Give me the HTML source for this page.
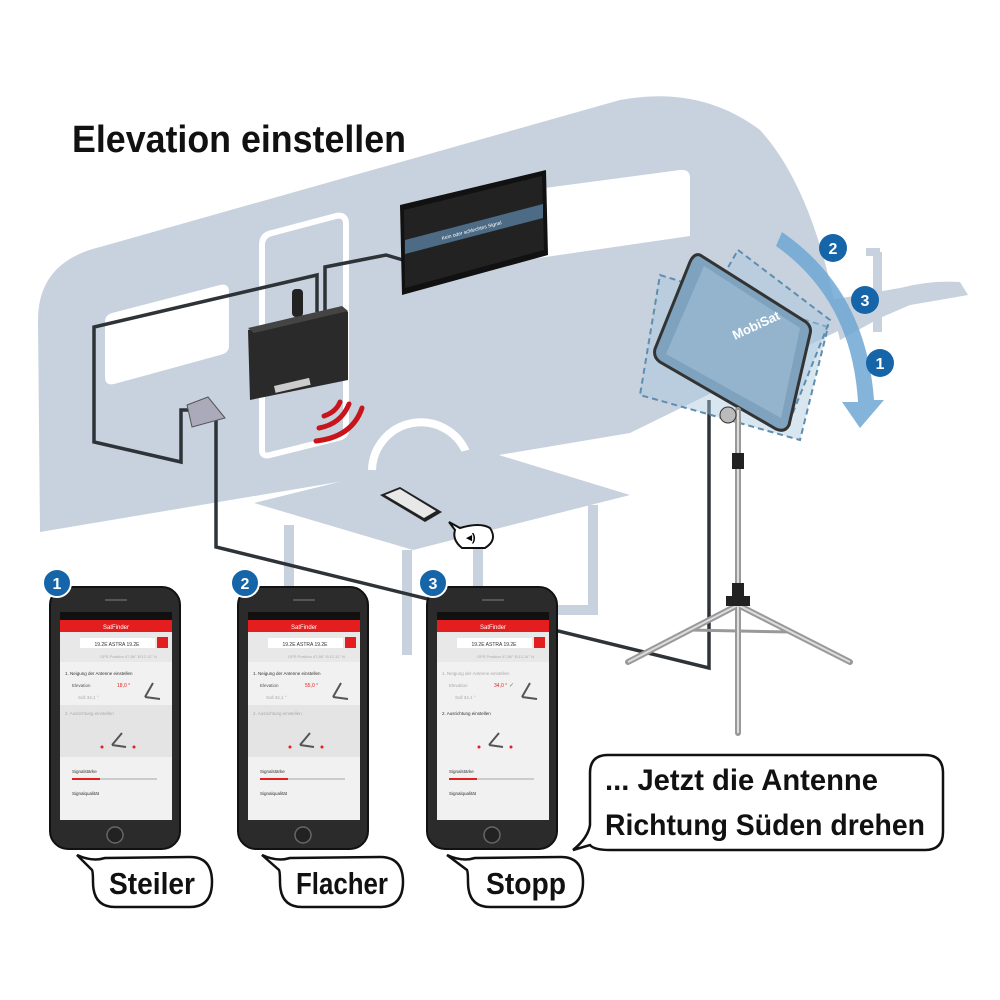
<!DOCTYPE html>
<html><head><meta charset="utf-8">
<style>
html,body{margin:0;padding:0;background:#fff;}
svg{display:block;}
.b{font-family:"Liberation Sans",sans-serif;font-weight:bold;}
.s{font-family:"Liberation Sans",sans-serif;}
</style></head><body>
<svg width="1000" height="1000" viewBox="0 0 1000 1000" xmlns="http://www.w3.org/2000/svg">
<!-- caravan body -->
<path d="M38,320 Q38,262 100,247 L620,100 Q700,85 760,130 Q815,190 840,330 L630,433 L40,532 Z" fill="#c7d2de"/>
<!-- hitch -->
<path d="M830,300 L900,288 Q930,280 960,282 L968,295 Q940,300 910,305 L880,318 L840,340 Z" fill="#c7d2de"/>
<rect x="873" y="252" width="9" height="80" fill="#c7d2de"/>
<rect x="866" y="248" width="14" height="8" fill="#c7d2de"/>
<!-- windows -->
<path d="M112,313 L220,285 Q229,283 229,292 L229,346 Q229,353 220,355 L114,384 Q105,386 105,377 L105,322 Q105,315 112,313 Z" fill="#fff"/>
<path d="M470,198 L680,170 Q690,169 690,178 L690,236 L470,268 Z" fill="#fff"/>
<!-- door -->
<path d="M262,245 Q262,235 272,233 L336,216 Q346,214 346,224 L346,430 Q346,436 338,438 L270,455 Q262,457 262,450 Z" fill="none" stroke="#fff" stroke-width="6"/>
<!-- wheel arch -->
<path d="M372,470 A49,49 0 0 1 466,452" fill="none" stroke="#fff" stroke-width="8"/>
<!-- table -->
<path d="M254,503 L476,448 L630,495 L413,550 Z" fill="#c7d2de"/>
<path d="M289,525 L289,655 M407,550 L407,655 M478,520 L478,600 Q478,610 488,610 L593,610 L593,505" stroke="#c7d2de" stroke-width="10" fill="none"/>
<!-- cables -->
<g fill="none" stroke="#2e3338" stroke-width="3.5">
<path d="M317,312 L317,275 L94,327 L94,442 L181,462 L181,410 L190,410"/>
<path d="M325,312 L325,267 L386,255 L403,260"/>
<path d="M216,415 L216,547 L709,668 L709,400"/>
</g>
<!-- TV -->
<path d="M400,205 L546,170 L548,255 L402,295 Z" fill="#111"/>
<path d="M404,210 L542,176 L544,250 L405,288 Z" fill="#222"/>
<path d="M405,240 L543,204 L543,218 L405,254 Z" fill="#4d6b85"/>
<text x="472" y="232" class="s" font-size="5" fill="#fff" transform="rotate(-15 472 232)" text-anchor="middle">Kein oder schlechtes Signal</text>
<!-- receiver box -->
<rect x="292" y="289" width="11" height="28" rx="4" fill="#222"/>
<path d="M248,330 L344,308 L348,312 L348,380 L250,400 Z" fill="#2a2a2a"/>
<path d="M248,328 L342,306 L348,311 L254,333 Z" fill="#444"/>
<rect x="274" y="386" width="36" height="7" fill="#ccc" transform="rotate(-13 274 386)"/>
<!-- socket -->
<path d="M187,405 L208,397 L225,418 L192,427 Z" fill="#aab" stroke="#555"/>
<!-- wifi waves -->
<g fill="none" stroke="#c8141b" stroke-width="5" stroke-linecap="round">
<path d="M324,416 Q336,412 340,402"/>
<path d="M319,428 Q341,424 349,404"/>
<path d="M316,441 Q352,437 362,408"/>
</g>
<!-- small phone on table -->
<path d="M380,495 L400,487 L442,512 L425,522 Z" fill="#222"/>
<path d="M385,495 L400,489 L436,511 L424,518 Z" fill="#e8e8e8"/>
<path d="M449,522 L460,528 Q480,522 490,528 Q498,540 485,548 L462,548 Q452,540 455,530 Z" fill="#fff" stroke="#111" stroke-width="2"/>
<text x="471" y="541" class="b" font-size="11" text-anchor="middle">◂)</text>
<!-- antenna (ghosts) -->
<g fill="#a9c8de" fill-opacity="0.45" stroke="#5f8db0" stroke-width="2" stroke-dasharray="6,4">
<path d="M660,275 L828,327 L800,440 L640,395 Z"/>
<path d="M738,250 L830,320 L790,420 L675,360 Z"/>
</g>
<path d="M700,255 L806,322 Q812,327 810,334 L789,425 Q785,433 776,429 L660,362 Q653,357 655,349 L690,262 Q694,253 700,255 Z" fill="#7fa3bf" stroke="#333" stroke-width="3"/>
<path d="M704,266 L800,328 L781,418 L666,354 Z" fill="#93b4cc"/>
<text x="735" y="340" class="b" font-size="13" fill="#fff" transform="rotate(-25 735 340)">MobiSat</text>
<!-- arrow arc -->
<path d="M782,232 Q866,290 874,400 L884,400 L860,428 L842,402 L858,402 Q852,300 776,246 Z" fill="#6fa7d4" opacity="0.85"/>
<!-- tripod -->
<g stroke="#999" stroke-width="6" stroke-linecap="round" fill="none">
<path d="M738,410 L738,733"/>
<path d="M738,605 L628,662 M738,605 L850,662"/>
<path d="M690,630 L790,632" stroke-width="3"/>
</g>
<path d="M738,410 L738,733 M738,605 L628,662 M738,605 L850,662" stroke="#ddd" stroke-width="2"/>
<rect x="732" y="453" width="12" height="16" fill="#222"/>
<rect x="732" y="583" width="12" height="18" fill="#222"/>
<rect x="726" y="596" width="24" height="10" fill="#222"/>
<circle cx="728" cy="415" r="8" fill="#bbb" stroke="#333"/>
<!-- numbered badges on antenna -->
<g class="b" font-size="16" fill="#fff" text-anchor="middle">
<circle cx="833" cy="248" r="14" fill="#1565a8"/><text x="833" y="254">2</text>
<circle cx="865" cy="300" r="14" fill="#1565a8"/><text x="865" y="306">3</text>
<circle cx="880" cy="363" r="14" fill="#1565a8"/><text x="880" y="369">1</text>
</g>
<!-- title -->
<text x="72" y="152" class="b" font-size="38" fill="#111" textLength="334" lengthAdjust="spacingAndGlyphs">Elevation einstellen</text>

<!-- phones -->
<g transform="translate(50,587)">
<rect x="0" y="0" width="130" height="262" rx="18" fill="#2b2b2b" stroke="#111" stroke-width="2"/>
<rect x="55" y="12" width="22" height="2" fill="#555"/>
<rect x="10" y="25" width="112" height="208" fill="#f1f1f1"/>
<rect x="10" y="25" width="112" height="8" fill="#111"/>
<rect x="10" y="33" width="112" height="12" fill="#e41e1e"/>
<text x="66" y="42" class="s" font-size="6" fill="#fff" text-anchor="middle">SatFinder</text>
<rect x="10" y="45" width="112" height="30" fill="#e8e8e8"/>
<rect x="30" y="51" width="75" height="10" fill="#fff"/>
<text x="67" y="59" class="s" font-size="5" fill="#333" text-anchor="middle">19.2E ASTRA 19.2E</text>
<rect x="107" y="50" width="11" height="11" fill="#e41e1e"/>
<text x="50" y="71" class="s" font-size="4" fill="#aaa">GPS Position       47,86° E/12,11° N</text>
<text x="15" y="88" class="s" font-size="4.5" fill="#333">1. Neigung der Antenne einstellen</text>
<text x="22" y="100" class="s" font-size="4.5" fill="#555">Elevation</text>
<text x="67" y="100" class="s" font-size="5" fill="#e41e1e">18,0 °</text>
<text x="28" y="112" class="s" font-size="4.5" fill="#aaa">Soll          34,1 °</text>
<path d="M95,110 L103,96 M95,110 L110,112" stroke="#555" stroke-width="2"/>
<rect x="10" y="118" width="112" height="52" fill="#e4e4e4"/>
<text x="15" y="128" class="s" font-size="4.5" fill="#aaa">2. Ausrichtung einstellen</text>
<path d="M62,158 L72,146 M62,158 L76,160" stroke="#555" stroke-width="2"/>
<circle cx="52" cy="160" r="1.5" fill="#e41e1e"/><circle cx="84" cy="160" r="1.5" fill="#e41e1e"/>
<text x="22" y="186" class="s" font-size="4.5" fill="#333">Signalstärke</text>
<rect x="22" y="191" width="85" height="2" fill="#ccc"/><rect x="22" y="191" width="28" height="2" fill="#e41e1e"/>
<text x="22" y="208" class="s" font-size="4.5" fill="#333">Signalqualität</text>
<circle cx="65" cy="248" r="8" fill="#222" stroke="#666" stroke-width="1.5"/>
</g>
<g transform="translate(238,587)">
<rect x="0" y="0" width="130" height="262" rx="18" fill="#2b2b2b" stroke="#111" stroke-width="2"/>
<rect x="55" y="12" width="22" height="2" fill="#555"/>
<rect x="10" y="25" width="112" height="208" fill="#f1f1f1"/>
<rect x="10" y="25" width="112" height="8" fill="#111"/>
<rect x="10" y="33" width="112" height="12" fill="#e41e1e"/>
<text x="66" y="42" class="s" font-size="6" fill="#fff" text-anchor="middle">SatFinder</text>
<rect x="10" y="45" width="112" height="30" fill="#e8e8e8"/>
<rect x="30" y="51" width="75" height="10" fill="#fff"/>
<text x="67" y="59" class="s" font-size="5" fill="#333" text-anchor="middle">19.2E ASTRA 19.2E</text>
<rect x="107" y="50" width="11" height="11" fill="#e41e1e"/>
<text x="50" y="71" class="s" font-size="4" fill="#aaa">GPS Position       47,86° E/12,11° N</text>
<text x="15" y="88" class="s" font-size="4.5" fill="#333">1. Neigung der Antenne einstellen</text>
<text x="22" y="100" class="s" font-size="4.5" fill="#555">Elevation</text>
<text x="67" y="100" class="s" font-size="5" fill="#e41e1e">55,0 °</text>
<text x="28" y="112" class="s" font-size="4.5" fill="#aaa">Soll          34,1 °</text>
<path d="M95,110 L103,96 M95,110 L110,112" stroke="#555" stroke-width="2"/>
<rect x="10" y="118" width="112" height="52" fill="#e4e4e4"/>
<text x="15" y="128" class="s" font-size="4.5" fill="#aaa">2. Ausrichtung einstellen</text>
<path d="M62,158 L72,146 M62,158 L76,160" stroke="#555" stroke-width="2"/>
<circle cx="52" cy="160" r="1.5" fill="#e41e1e"/><circle cx="84" cy="160" r="1.5" fill="#e41e1e"/>
<text x="22" y="186" class="s" font-size="4.5" fill="#333">Signalstärke</text>
<rect x="22" y="191" width="85" height="2" fill="#ccc"/><rect x="22" y="191" width="28" height="2" fill="#e41e1e"/>
<text x="22" y="208" class="s" font-size="4.5" fill="#333">Signalqualität</text>
<circle cx="65" cy="248" r="8" fill="#222" stroke="#666" stroke-width="1.5"/>
</g>
<g transform="translate(427,587)">
<rect x="0" y="0" width="130" height="262" rx="18" fill="#2b2b2b" stroke="#111" stroke-width="2"/>
<rect x="55" y="12" width="22" height="2" fill="#555"/>
<rect x="10" y="25" width="112" height="208" fill="#f1f1f1"/>
<rect x="10" y="25" width="112" height="8" fill="#111"/>
<rect x="10" y="33" width="112" height="12" fill="#e41e1e"/>
<text x="66" y="42" class="s" font-size="6" fill="#fff" text-anchor="middle">SatFinder</text>
<rect x="10" y="45" width="112" height="30" fill="#e8e8e8"/>
<rect x="30" y="51" width="75" height="10" fill="#fff"/>
<text x="67" y="59" class="s" font-size="5" fill="#333" text-anchor="middle">19.2E ASTRA 19.2E</text>
<rect x="107" y="50" width="11" height="11" fill="#e41e1e"/>
<text x="50" y="71" class="s" font-size="4" fill="#aaa">GPS Position       47,86° E/12,14° N</text>
<text x="15" y="88" class="s" font-size="4.5" fill="#aaa">1. Neigung der Antenne einstellen</text>
<text x="22" y="100" class="s" font-size="4.5" fill="#aaa">Elevation</text>
<text x="67" y="100" class="s" font-size="5" fill="#e41e1e">34,0 °</text>
<text x="82" y="100" class="s" font-size="6" fill="#3a3">✓</text>
<text x="28" y="112" class="s" font-size="4.5" fill="#aaa">Soll          34,1 °</text>
<path d="M95,110 L103,96 M95,110 L110,112" stroke="#555" stroke-width="2"/>
<rect x="10" y="118" width="112" height="52" fill="#f1f1f1"/>
<text x="15" y="128" class="s" font-size="4.5" fill="#333">2. Ausrichtung einstellen</text>
<path d="M62,158 L72,146 M62,158 L76,160" stroke="#555" stroke-width="2"/>
<circle cx="52" cy="160" r="1.5" fill="#e41e1e"/><circle cx="84" cy="160" r="1.5" fill="#e41e1e"/>
<text x="22" y="186" class="s" font-size="4.5" fill="#333">Signalstärke</text>
<rect x="22" y="191" width="85" height="2" fill="#ccc"/><rect x="22" y="191" width="28" height="2" fill="#e41e1e"/>
<text x="22" y="208" class="s" font-size="4.5" fill="#333">Signalqualität</text>
<circle cx="65" cy="248" r="8" fill="#222" stroke="#666" stroke-width="1.5"/>
</g>
<!-- phone badges -->
<g class="b" font-size="16" fill="#fff" text-anchor="middle">
<circle cx="57" cy="583" r="14" fill="#1565a8" stroke="#fff" stroke-width="2"/><text x="57" y="589">1</text>
<circle cx="245" cy="583" r="14" fill="#1565a8" stroke="#fff" stroke-width="2"/><text x="245" y="589">2</text>
<circle cx="433" cy="583" r="14" fill="#1565a8" stroke="#fff" stroke-width="2"/><text x="433" y="589">3</text>
</g>
<!-- speech bubbles -->
<g fill="#fff" stroke="#111" stroke-width="2.5">
<path d="M77,855 Q92,862 105,858 L190,857 Q212,857 212,882 Q212,907 190,907 L115,907 Q93,907 93,882 Q93,872 92,870 Z"/>
<path d="M262,855 Q277,862 290,858 L380,857 Q403,857 403,882 Q403,907 380,907 L302,907 Q280,907 280,882 Q280,872 279,870 Z"/>
<path d="M447,855 Q462,862 475,858 L561,857 Q583,857 583,882 Q583,907 561,907 L490,907 Q468,907 468,882 Q468,872 467,870 Z"/>
<path d="M608,755 L925,755 Q943,755 943,773 L943,832 Q943,850 925,850 L610,850 Q594,850 590,845 L573,850 Q588,838 590,825 L590,773 Q590,755 608,755 Z"/>
</g>
<g class="b" font-size="31" fill="#111">
<text x="109" y="894" textLength="86" lengthAdjust="spacingAndGlyphs">Steiler</text>
<text x="296" y="894" textLength="92" lengthAdjust="spacingAndGlyphs">Flacher</text>
<text x="486" y="894" textLength="80" lengthAdjust="spacingAndGlyphs">Stopp</text>
</g>
<g class="b" font-size="30" fill="#111">
<text x="605" y="790" textLength="273" lengthAdjust="spacingAndGlyphs">... Jetzt die Antenne</text>
<text x="605" y="835" textLength="320" lengthAdjust="spacingAndGlyphs">Richtung Süden drehen</text>
</g>
</svg>
</body></html>
